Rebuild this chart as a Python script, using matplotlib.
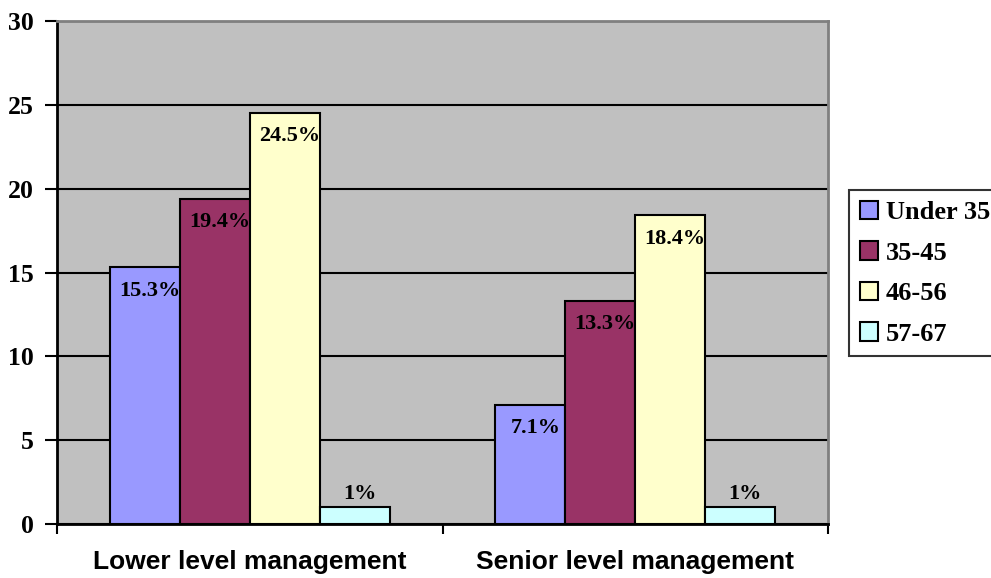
import numpy as np
import matplotlib.pyplot as plt
from matplotlib.patches import Patch

categories = ["Lower level management", "Senior level management"]
age_groups = ["Under 35", "35-45", "46-56", "57-67"]
under_35 = [15.3, 7.1]
age_35_45 = [19.4, 13.3]
age_46_56 = [24.5, 18.4]
age_57_67 = [1, 1]
value_labels = [["15.3%", "7.1%"], ["19.4%", "13.3%"], ["24.5%", "18.4%"], ["1%", "1%"]]

series = [under_35, age_35_45, age_46_56, age_57_67]
colors = ["#9999FF", "#993366", "#FFFFCC", "#CCFFFF"]

serif = "Liberation Serif"
sans = "Liberation Sans"

fig = plt.figure(figsize=(9.91, 5.78), dpi=100)
ax = fig.add_axes([57 / 991, 54 / 578, 771 / 991, 503 / 578])
ax.set_facecolor("#C0C0C0")

x = np.arange(len(categories))
width = 0.1816
offsets = (np.arange(len(series)) - 1.5) * width

for i, (vals, col) in enumerate(zip(series, colors)):
    ax.bar(x + offsets[i], vals, width, color=col, edgecolor="black",
           linewidth=1.5, zorder=3)
    for j, v in enumerate(vals):
        xc = x[j] + offsets[i] + 0.013
        if v > 3:
            ax.annotate(value_labels[i][j], (xc, v), xytext=(0, -9.5),
                        textcoords="offset points", ha="center", va="top",
                        fontsize=16, fontweight="bold", family=serif, zorder=4)
        else:
            ax.annotate(value_labels[i][j], (xc, v), xytext=(0, 2),
                        textcoords="offset points", ha="center", va="bottom",
                        fontsize=16, fontweight="bold", family=serif, zorder=4)

ax.set_xlim(-0.5, 1.5)
ax.set_ylim(0, 30)
ax.set_yticks(np.arange(0, 31, 5))
ax.yaxis.grid(True, color="black", linewidth=1.5, zorder=1)
ax.set_axisbelow(True)

for lab in ax.get_yticklabels():
    lab.set_fontfamily(serif)
    lab.set_fontweight("bold")
    lab.set_fontsize(18.5)
ax.tick_params(axis="y", direction="out", length=9, width=1.5, pad=8)

ax.set_xticks(x)
ax.set_xticklabels(categories, fontfamily=sans, fontweight="bold", fontsize=19)
ax.set_xticks([-0.5, 0.5, 1.5], minor=True)
ax.tick_params(axis="x", which="major", length=0, pad=19)
ax.tick_params(axis="x", which="minor", direction="out", length=7, width=1.5)

ax.spines["left"].set_linewidth(2)
ax.spines["bottom"].set_linewidth(2)
ax.spines["top"].set_color("#808080")
ax.spines["right"].set_color("#808080")
ax.spines["top"].set_linewidth(2)
ax.spines["right"].set_linewidth(2)

handles = [Patch(facecolor=c, edgecolor="black", linewidth=1.5) for c in colors]
leg = fig.legend(handles, age_groups, loc="upper left",
                 bbox_to_anchor=(849 / 991, 1 - 190 / 578),
                 prop={"family": serif, "weight": "bold", "size": 19},
                 frameon=True, fancybox=False, edgecolor="black",
                 handlelength=0.7, handleheight=0.7, handletextpad=0.3,
                 labelspacing=0.65, borderpad=0.4, borderaxespad=0)
leg.get_frame().set_linewidth(1.5)

fig.savefig("out.png", dpi=100)
